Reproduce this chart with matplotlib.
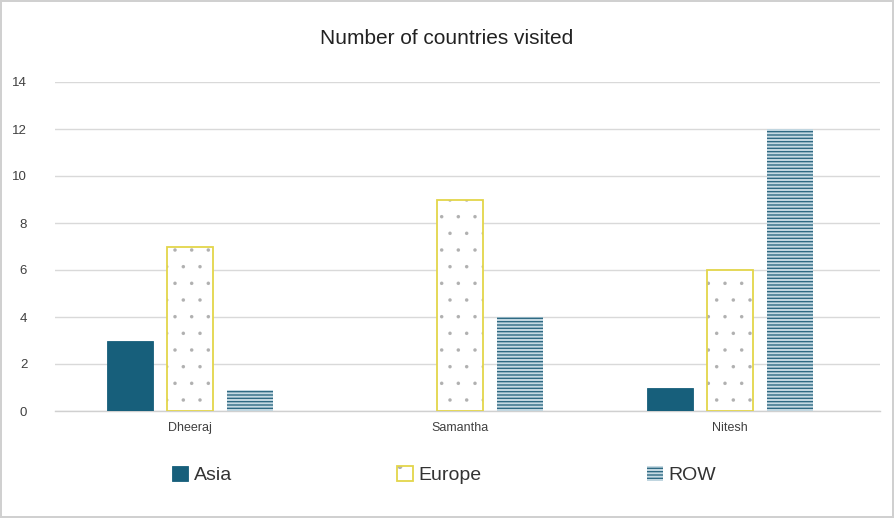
import numpy as np
import matplotlib
matplotlib.use('Agg')
import matplotlib.pyplot as plt
from matplotlib.legend_handler import HandlerTuple

# data
people = ['Dheeraj', 'Samantha', 'Nitesh']
asia = [3, 0, 1]
europe = [7, 9, 6]
row = [0.9, 4, 12]
series_names = ['Asia', 'Europe', 'ROW']
yticks = [0, 2, 4, 6, 8, 10, 12, 14]

plt.rcParams['font.family'] = ['Liberation Sans', 'DejaVu Sans']

fig = plt.figure(figsize=(8.94, 5.18), dpi=100)
fig.patch.set_edgecolor('#d0d0d0')
fig.patch.set_linewidth(1.5)
ax = fig.add_axes([55 / 894, 1 - 411 / 518, 825 / 894, (411 - 82) / 518])

x = np.arange(len(people))
w = 0.17
off = 0.222

b1 = ax.bar(x - off, asia, w, color='#175f7b', edgecolor='#175f7b', linewidth=0.6, zorder=3)

# europe: small grey dots + yellow outline
plt.rcParams['hatch.linewidth'] = 0.1
b2a = ax.bar(x, europe, w, color='white', edgecolor='#b0b0b0', linewidth=0, hatch='.', zorder=3)
b2b = ax.bar(x, europe, w, fill=False, edgecolor='#e3d54a', linewidth=1.3, zorder=4)

# ROW: dense horizontal lines
plt.rcParams['hatch.linewidth'] = 1.0
b3 = ax.bar(x + off, row, w, color='#c6dae3', edgecolor='#2f6a83', linewidth=0, hatch='-----', zorder=3)

ax.set_xlim(-0.5, 2.556)
ax.set_ylim(0, 14)
ax.set_yticks(yticks)
ax.set_xticks(x)
ax.set_xticklabels(people, fontsize=9, color='#404040')
ax.tick_params(axis='y', labelsize=9.5, colors='#404040', length=0, pad=20)
ax.tick_params(axis='x', length=0, pad=8)
ax.grid(axis='y', color='#d9d9d9', linewidth=1, zorder=0)
for s in ['top', 'right', 'left']:
    ax.spines[s].set_visible(False)
ax.spines['bottom'].set_color('#d0d0d0')
ax.spines['bottom'].set_linewidth(1)

fig.text(0.5, 1 - 38 / 518, 'Number of countries visited', ha='center', va='center',
         fontsize=15, color='#222222')

leg = fig.legend([b1[0], (b2a[0], b2b[0]), b3[0]], series_names,
                 handler_map={tuple: HandlerTuple(ndivide=1, pad=0)},
                 loc='center', bbox_to_anchor=(0.497, 1 - 475 / 518), ncol=3,
                 frameon=False, fontsize=14, handlelength=0.8, handleheight=0.8,
                 handletextpad=0.3, columnspacing=8.5)
for t in leg.get_texts():
    t.set_color('#333333')

fig.savefig('out.png', dpi=100)
